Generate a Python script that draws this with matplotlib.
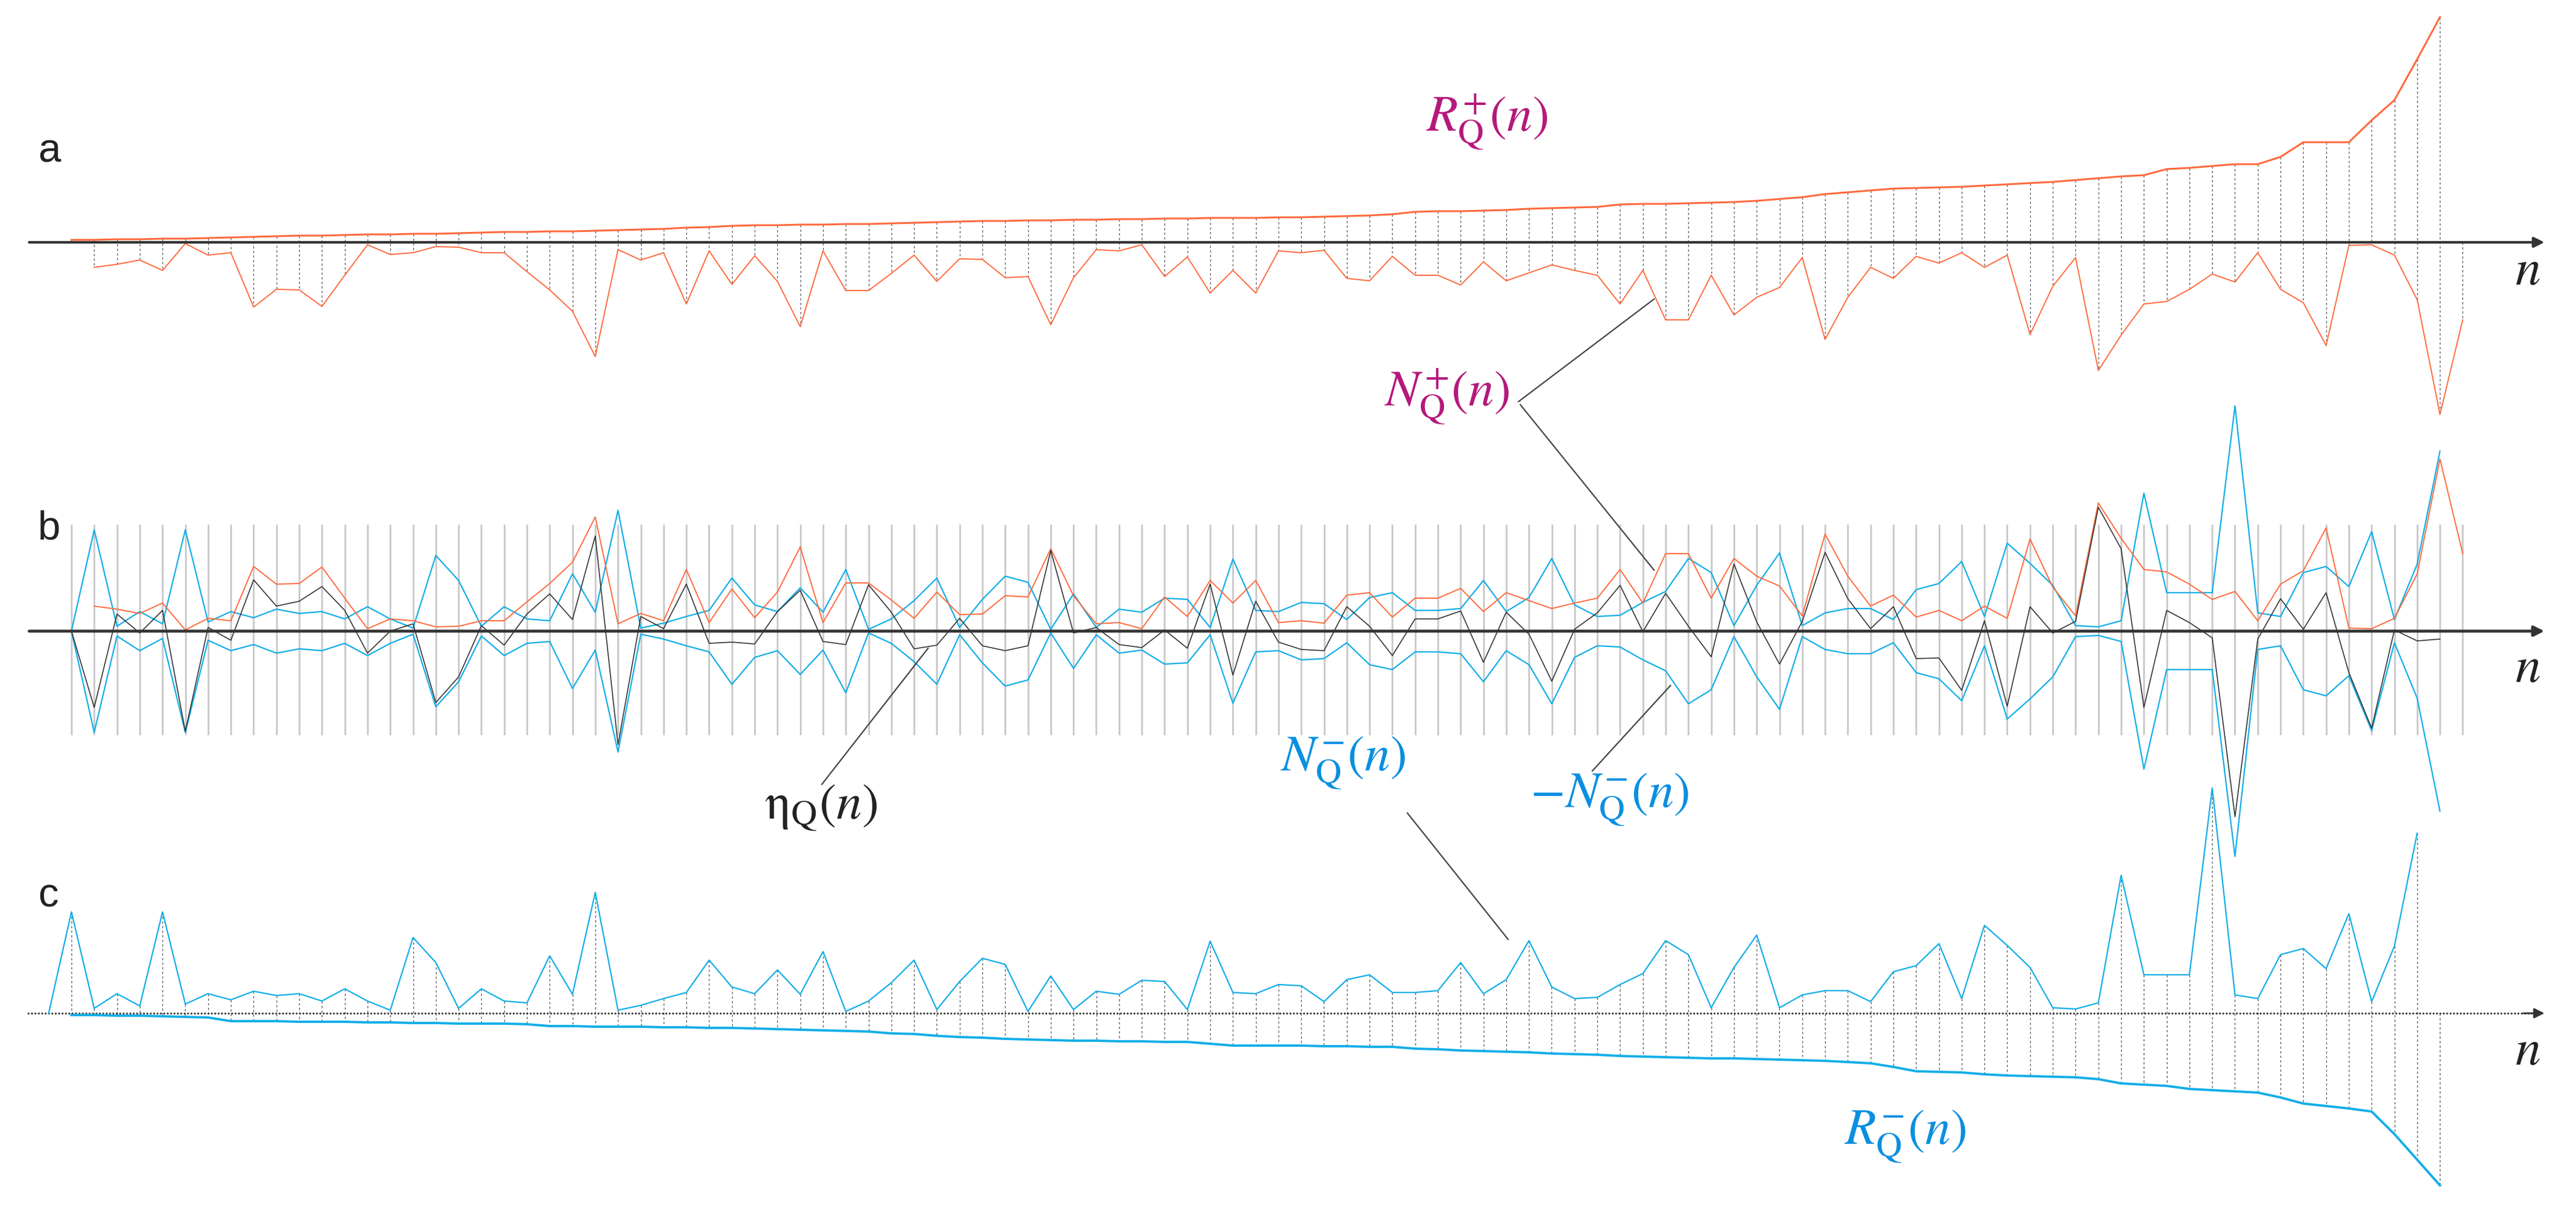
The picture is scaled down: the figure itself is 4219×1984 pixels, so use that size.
import numpy as np
import matplotlib
matplotlib.use('Agg')
import matplotlib.pyplot as plt

plt.rcParams['mathtext.fontset'] = 'stix'
plt.rcParams['font.family'] = ['Liberation Sans', 'DejaVu Sans']

# R+ (sorted), index 0..104
r_plus = [4, 4, 5, 5, 6, 6, 7, 8, 9, 10,
          11, 11, 12, 13, 13, 14, 14, 15, 16, 17,
          17, 18, 18, 19, 20, 21, 22, 24, 25, 27,
          28, 28, 29, 29, 30, 30, 31, 32, 33, 34,
          35, 35, 36, 36, 37, 37, 38, 38, 39, 39,
          40, 40, 40, 41, 41, 42, 43, 44, 46, 50,
          51, 51, 52, 53, 55, 56, 57, 58, 62, 63,
          63, 64, 65, 66, 68, 71, 74, 79, 82, 85,
          88, 89, 90, 91, 93, 95, 97, 99, 102, 105,
          108, 110, 120, 122, 125, 128, 128, 140, 164, 164,
          164, 200, 233, 300, 369]

# R- (sorted), index 1..105
r_minus = [3, 3, 4, 4, 5, 6, 7, 13, 13, 13,
           14, 14, 14, 15, 15, 16, 16, 17, 17, 17,
           18, 21, 21, 22, 22, 22, 23, 23, 24, 24,
           25, 26, 27, 28, 29, 30, 33, 34, 37, 39,
           40, 42, 43, 44, 45, 45, 46, 46, 47, 47,
           50, 53, 53, 53, 53, 54, 54, 55, 55, 58,
           59, 61, 62, 63, 64, 66, 67, 68, 70, 71,
           72, 73, 74, 74, 75, 76, 77, 78, 80, 82,
           88, 95, 96, 97, 100, 102, 103, 104, 105, 108,
           115, 117, 119, 124, 126, 128, 130, 138, 148, 152,
           156, 161, 198, 240, 282]

# N+ index 0..105, N- index 0..104
n_plus = [0, 41, 36, 29, 46, 2, 21, 17, 106, 77, 78,
          105, 54, 4, 20, 17, 7, 8, 17, 17, 48,
          78, 113, 187, 12, 29, 17, 101, 14, 69, 22,
          64, 138, 14, 79, 79, 51, 21, 64, 27, 28,
          58, 56, 135, 58, 12, 14, 4, 56, 24, 83,
          46, 83, 14,
          17, 13, 59, 63, 23, 54, 54, 70, 32, 63,
          50, 37, 46, 54, 101, 46, 127, 127, 54, 119,
          90, 74, 25, 159, 90, 41, 59, 23, 34, 17,
          41, 21, 151, 72, 25, 210, 152, 101, 97, 77,
          52, 65, 17, 77, 99, 169, 5, 4, 21, 94,
          282, 127]
n_minus = [0, 166, 8, 32, 12, 166, 15, 32, 22, 36,
           29, 32, 20, 40, 20, 5, 124, 83, 8, 40,
           20, 17, 94, 31, 198, 5, 13, 24, 34, 87,
           43, 32, 71, 31, 101, 3, 20, 50, 87, 6,
           52, 90, 80, 3, 61, 6, 36, 31, 54, 52,
           6, 118, 34, 32,
           47, 45, 19, 55, 63, 34, 34, 37, 83, 32,
           55, 119, 43, 24, 26, 47, 65, 119, 96, 9,
           75, 128, 9, 30, 37, 37, 19, 68, 78, 114,
           24, 144, 111, 75, 9, 7, 17, 226, 63, 63,
           63, 369, 30, 24, 96, 106, 73, 163, 19, 110,
           295]

ORANGE = '#ff6a3d'
BLUE = '#12aee8'
MAGENTA = '#b5197c'
DBLUE = '#0a8fe0'

W, H = 4219, 1984
fig = plt.figure(figsize=(W / 100, H / 100), dpi=100)
ax = fig.add_axes([0, 0, 1, 1])
ax.set_xlim(0, W)
ax.set_ylim(H, 0)
ax.axis('off')

x0, step = 117, 37.3
ya, yb, yc = 397, 1034, 1660

npl = np.array(n_plus, float)
nmi = np.array(n_minus, float)
m = len(nmi)
eta = npl[:m] - nmi
x = x0 + step * np.arange(len(npl))
xm = x[:m]
xr = x[:len(r_plus)]

# ---- panel a
ax.vlines(xr, ya - np.array(r_plus), ya + npl[:len(r_plus)], colors='#555555',
          linestyles=(0, (3, 3)), lw=0.9)
ax.vlines(x[-1], ya, ya + npl[-1], colors='#555555', linestyles=(0, (3, 3)), lw=0.9)
ax.plot(xr, ya - np.array(r_plus), color=ORANGE, lw=2.2)
ax.plot(x[1:], ya + npl[1:], color=ORANGE, lw=1.4)
ax.annotate('', xy=(4170, ya), xytext=(45, ya),
            arrowprops=dict(arrowstyle='-|>,head_width=0.5,head_length=1', color='#333333', lw=3))

# ---- panel b
ax.vlines(x, yb - 175, yb + 170, colors='#c8c8c8', lw=2)
ax.annotate('', xy=(4170, yb), xytext=(45, yb),
            arrowprops=dict(arrowstyle='-|>,head_width=0.5,head_length=1', color='#333333', lw=3.5))
ax.plot(xm, yb - nmi, color=BLUE, lw=1.6)
ax.plot(xm, yb + nmi, color=BLUE, lw=1.6)
ax.plot(x[1:], yb - npl[1:], color=ORANGE, lw=1.4)
ax.plot(xm, yb - eta, color='#333333', lw=1.2)

# ---- panel c (shifted one step left)
xc = xm - step
xcr = x[1:1 + len(r_minus)] - step
nm_c = np.append(nmi, 0)[1:1 + len(r_minus)]
ax.vlines(xcr, yc - nm_c, yc + np.array(r_minus), colors='#555555',
          linestyles=(0, (3, 3)), lw=0.9)
ax.plot([45, 4150], [yc, yc], color='#333333', lw=2, ls=(0, (1, 1)))
ax.annotate('', xy=(4170, yc), xytext=(4130, yc),
            arrowprops=dict(arrowstyle='-|>,head_width=0.5,head_length=1', color='#333333', lw=2))
ax.plot(xc, yc - nmi, color=BLUE, lw=1.6)
ax.plot(xcr, yc + np.array(r_minus), color=BLUE, lw=2.8)

# ---- labels
for lab, yy in (('a', 248), ('b', 866), ('c', 1469)):
    ax.text(62, yy, lab, fontsize=48, va='center', ha='left', color='#222222')
for yy in (444, 1095, 1722):
    ax.text(4140, yy, r'$n$', fontsize=60, va='center', ha='center', color='#222222')

fs = 60
ax.text(2435, 200, r'$R_{\mathrm{Q}}^{+}(n)$', fontsize=fs, color=MAGENTA, ha='center', va='center')
ax.text(2370, 650, r'$N_{\mathrm{Q}}^{+}(n)$', fontsize=fs, color=MAGENTA, ha='center', va='center')
ax.plot([2487, 2709], [658, 490], color='#444444', lw=1.6)
ax.plot([2490, 2709], [663, 934], color='#444444', lw=1.6)

ax.text(1345, 1323, r'$\mathrm{\eta}_{\mathrm{Q}}(n)$', fontsize=fs, color='#222222', ha='center', va='center')
ax.plot([1346, 1520], [1285, 1062], color='#444444', lw=1.6)

ax.text(2636, 1310, r'$-N_{\mathrm{Q}}^{-}(n)$', fontsize=fs, color=DBLUE, ha='center', va='center')
ax.plot([2608, 2736], [1263, 1123], color='#444444', lw=1.6)

ax.text(2200, 1250, r'$N_{\mathrm{Q}}^{-}(n)$', fontsize=fs, color=DBLUE, ha='center', va='center')
ax.plot([2305, 2470], [1332, 1539], color='#444444', lw=1.6)

ax.text(3120, 1862, r'$R_{\mathrm{Q}}^{-}(n)$', fontsize=fs, color=DBLUE, ha='center', va='center')

fig.savefig('out.png', dpi=100)
